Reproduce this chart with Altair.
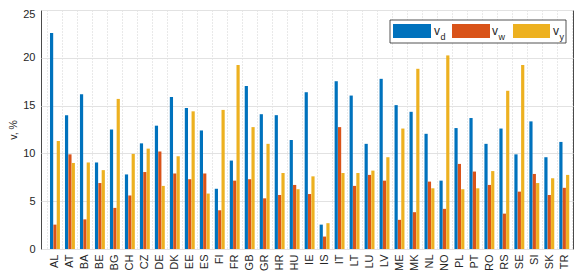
import altair as alt
import pandas as pd

countries = ["AL", "AT", "BA", "BE", "BG", "CH", "CZ", "DE", "DK", "EE", "ES", "FI",
             "FR", "GB", "GR", "HR", "HU", "IE", "IS", "IT", "LT", "LU", "LV", "ME",
             "MK", "NL", "NO", "PL", "PT", "RO", "RS", "SE", "SI", "SK", "TR"]
v_d = [22.6, 14.0, 16.2, 9.05, 12.5, 7.8, 11.05, 12.9, 15.9, 14.75, 12.4, 6.3,
       9.25, 17.05, 14.1, 14.0, 11.4, 16.4, 2.55, 17.55, 16.05, 11.0, 17.8, 15.05,
       14.35, 12.05, 7.15, 12.65, 13.7, 11.0, 12.6, 9.9, 13.35, 9.6, 11.2]
v_w = [2.55, 9.9, 3.1, 6.9, 4.3, 5.6, 8.05, 10.2, 7.9, 7.3, 7.9, 4.05,
       7.15, 7.3, 5.3, 5.65, 6.7, 5.75, 1.3, 12.75, 6.6, 7.75, 7.15, 3.05,
       3.85, 7.05, 4.2, 8.9, 8.1, 6.7, 3.7, 6.0, 7.85, 5.65, 6.4]
v_y = [11.3, 9.0, 9.05, 8.25, 15.7, 9.95, 10.5, 6.6, 9.7, 14.4, 5.8, 14.55,
       19.25, 12.75, 11.0, 7.95, 6.25, 7.6, 2.7, 7.95, 7.95, 8.2, 9.6, 12.6,
       18.85, 6.35, 20.25, 6.25, 6.35, 8.15, 16.55, 19.25, 6.9, 7.4, 7.75]
series = ["v_d", "v_w", "v_y"]
colors = ["#0072BD", "#D95319", "#EDB120"]
y_ticks = [0, 5, 10, 15, 20, 25]

rows = []
for i, c in enumerate(countries):
    for s, vals in zip(series, [v_d, v_w, v_y]):
        rows.append({"country": c, "series": s, "value": vals[i]})
df = pd.DataFrame(rows)

FONT = "Liberation Sans"
TXT = "#262626"

bars = alt.Chart(df).mark_bar().encode(
    x=alt.X("country:N", sort=countries, title=None,
            scale=alt.Scale(paddingInner=0, paddingOuter=0.257, align=0.84),
            axis=alt.Axis(labelAngle=270, labelFontSize=11, labelPadding=5,
                          ticks=False, tickSize=0, domain=False, grid=True,
                          tickBand="extent", gridDash=[1, 2], gridColor="#c8c8c8",
                          gridWidth=0.8, labelColor=TXT, labelFont=FONT)),
    xOffset=alt.XOffset("series:N", sort=series,
                        scale=alt.Scale(paddingInner=0.05, paddingOuter=0.75)),
    y=alt.Y("value:Q", title="v, %",
            scale=alt.Scale(domain=[0, 25], nice=False),
            axis=alt.Axis(values=y_ticks, labelFontSize=11, labelPadding=6,
                          labelOffset={"condition": {"test": "datum.value == 25", "value": 4},
                                       "value": 0},
                          ticks=False, tickSize=0, domain=False, grid=True,
                          gridColor="#e2e2e2", gridWidth=1, labelColor=TXT,
                          labelFont=FONT, titleFont=FONT, titleFontSize=10.5,
                          titleFontWeight="normal", titleColor=TXT,
                          titleX=-23, titleY=119.5)),
    color=alt.Color("series:N", sort=series,
                    scale=alt.Scale(domain=series, range=colors), legend=None),
)

one = pd.DataFrame({"a": [0]})
legend_box = alt.Chart(one).mark_rect(fill="white", stroke="#262626", strokeWidth=0.8).encode(
    x=alt.value(349), x2=alt.value(525), y=alt.value(10), y2=alt.value(33))

layers = [bars, legend_box]
sw_x = [(352, 390), (411, 449), (472, 509)]
v_x = [393, 451, 512]
subs = ["d", "w", "y"]
for (x0, x1), col, vx, sub in zip(sw_x, colors, v_x, subs):
    layers.append(alt.Chart(one).mark_rect(fill=col).encode(
        x=alt.value(x0), x2=alt.value(x1), y=alt.value(14), y2=alt.value(28)))
    layers.append(alt.Chart(one).mark_text(align="left", baseline="alphabetic", fontSize=12,
                                           font=FONT, color=TXT).encode(
        x=alt.value(vx), y=alt.value(25), text=alt.value("v")))
    layers.append(alt.Chart(one).mark_text(align="left", baseline="alphabetic", fontSize=9,
                                           font=FONT, color=TXT).encode(
        x=alt.value(vx + 6.5), y=alt.value(29.5), text=alt.value(sub)))

chart = alt.layer(*layers).properties(
    width=532, height=239,
    autosize=alt.AutoSizeParams(type="none"),
    padding={"left": 33, "top": 2, "right": 1, "bottom": 23},
    background="white",
).configure_view(stroke="#4a4a4a", strokeWidth=1)

chart.save("out.html", embed_options={"renderer": "svg", "actions": False})
